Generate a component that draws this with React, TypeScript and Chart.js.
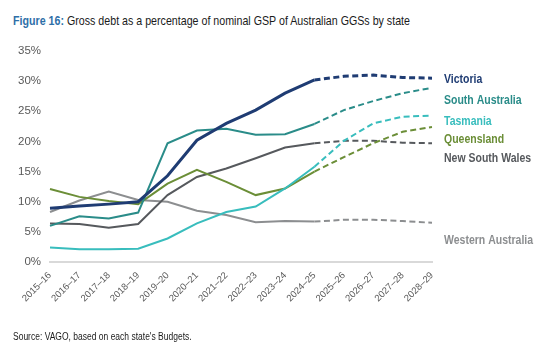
import React, { useEffect, useRef } from "react";
import { Chart, registerables } from "chart.js";

Chart.register(...registerables);

const categories = [
  "2015–16", "2016–17", "2017–18", "2018–19", "2019–20", "2020–21", "2021–22",
  "2022–23", "2023–24", "2024–25", "2025–26", "2026–27", "2027–28", "2028–29",
];

const victoria = [8.9, 9.3, 9.6, 10.0, 14.3, 20.2, 23.0, 25.2, 28.0, 30.2, 30.8, 31.0, 30.6, 30.5];
const southAustralia = [6.0, 7.6, 7.2, 8.2, 19.7, 21.8, 22.1, 21.1, 21.2, 22.9, 25.2, 26.7, 28.0, 28.9];
const tasmania = [2.4, 2.1, 2.1, 2.2, 3.9, 6.4, 8.3, 9.2, 12.2, 15.8, 20.1, 23.0, 24.1, 24.3];
const queensland = [12.1, 10.8, 10.1, 9.6, 13.0, 15.3, 13.3, 11.1, 12.2, 15.0, 17.4, 19.7, 21.6, 22.4];
const newSouthWales = [6.4, 6.3, 5.7, 6.3, 11.1, 14.1, 15.5, 17.2, 19.0, 19.7, 20.1, 20.1, 19.8, 19.7];
const westernAustralia = [8.3, 10.2, 11.7, 10.3, 10.0, 8.5, 7.8, 6.6, 6.8, 6.7, 7.0, 7.0, 6.8, 6.5];

const seriesNames = ["Victoria", "South Australia", "Tasmania", "Queensland", "New South Wales", "Western Australia"];
const seriesData = [victoria, southAustralia, tasmania, queensland, newSouthWales, westernAustralia];
const seriesColors = ["#1F3C73", "#2A8C89", "#38BDBD", "#6B8E37", "#56595D", "#8C8E90"];
const seriesWidths = [3, 2, 2, 2, 2, 2];
// label anchor (in % units) for right-hand series labels
const labelValues = [30.3, 26.8, 23.3, 20.3, 17.1, 3.6];

const yTicks = [0, 5, 10, 15, 20, 25, 30, 35];
const forecastStart = 9;

const FONT = "'Liberation Sans', Arial, sans-serif";

const labelPlugin = {
  id: "seriesLabels",
  afterDatasetsDraw(chart: any) {
    const { ctx, chartArea, scales } = chart;
    seriesNames.forEach((name, i) => {
      ctx.save();
      ctx.font = `bold 12.5px ${FONT}`;
      ctx.textBaseline = "middle";
      ctx.textAlign = "left";
      ctx.fillStyle = seriesColors[i];
      ctx.translate(chartArea.right + 12, scales.y.getPixelForValue(labelValues[i]));
      ctx.scale(0.84, 1);
      ctx.fillText(name, 0, 0);
      ctx.restore();
    });
  },
};

export default function App() {
  const ref = useRef<HTMLCanvasElement>(null);
  useEffect(() => {
    document.body.style.margin = "0";
    const chart = new Chart(ref.current!, {
      type: "line",
      data: {
        labels: categories,
        datasets: seriesData.map((d, i) => ({
          label: seriesNames[i],
          data: d,
          borderColor: seriesColors[i],
          backgroundColor: seriesColors[i],
          borderWidth: seriesWidths[i],
          pointRadius: 0,
          tension: 0,
          fill: false,
          segment: {
            borderDash: (c: any) => (c.p0DataIndex >= forecastStart ? [6, 3.5] : undefined),
          },
        })),
      },
      options: {
        animation: false,
        responsive: false,
        maintainAspectRatio: false,
        layout: { padding: { top: 51, right: 116, left: 0, bottom: 0 } },
        plugins: { legend: { display: false }, tooltip: { enabled: false } },
        scales: {
          x: {
            grid: { display: false, drawTicks: false },
            border: { display: true, color: "#D9D9D9", width: 2 },
            ticks: {
              color: "#595959",
              font: { family: FONT, size: 9.5 },
              maxRotation: 45,
              minRotation: 45,
              padding: 8,
              autoSkip: false,
            },
            afterFit: (s: any) => { s.height = 91; },
          },
          y: {
            min: 0,
            max: 35,
            grid: { display: false, drawTicks: false },
            border: { display: false },
            afterBuildTicks: (s: any) => { s.ticks = yTicks.map((v) => ({ value: v })); },
            ticks: {
              color: "#595959",
              font: { family: FONT, size: 11.5 },
              padding: 9,
              callback: (v: any) => `${v}%`,
            },
            afterFit: (s: any) => { s.width = 50; },
          },
        },
      },
      plugins: [labelPlugin],
    });
    return () => chart.destroy();
  }, []);

  return (
    <div style={{ position: "fixed", left: 0, top: 0, width: 548, height: 353, background: "#fff" }}>
      <div style={{ position: "absolute", left: 13, top: 13, fontFamily: FONT, fontSize: 13.5, color: "#1a1a1a", whiteSpace: "nowrap", transform: "scaleX(0.79)", transformOrigin: "left top" }}>
        <span style={{ color: "#2E6FA8", fontWeight: "bold" }}>Figure 16:</span> Gross debt as a percentage of nominal GSP of Australian GGSs by state
      </div>
      <canvas ref={ref} width={548} height={353} style={{ position: "absolute", left: 0, top: 0 }} />
      <div style={{ position: "absolute", left: 13, top: 331, fontFamily: FONT, fontSize: 10, color: "#1a1a1a", whiteSpace: "nowrap", transform: "scaleX(0.85)", transformOrigin: "left top" }}>
        Source: VAGO, based on each state's Budgets.
      </div>
    </div>
  );
}
